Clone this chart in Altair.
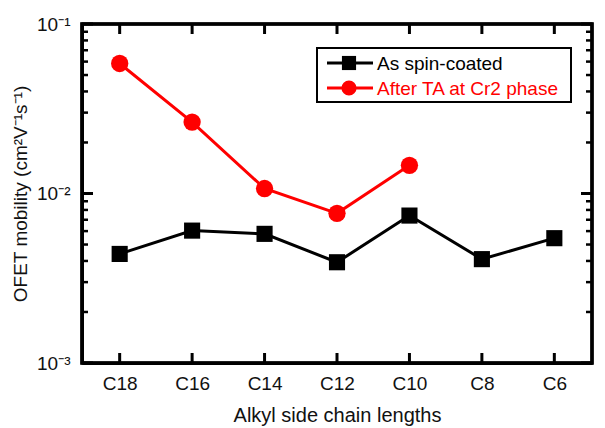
import altair as alt
import pandas as pd

categories = ["C18", "C16", "C14", "C12", "C10", "C8", "C6"]
spin_coated = [0.00440, 0.00604, 0.00578, 0.00393, 0.00741, 0.00410, 0.00545]
ta_categories = ["C18", "C16", "C14", "C12", "C10"]
after_ta = [0.0585, 0.0264, 0.0107, 0.00764, 0.01466]
series_names = ["As spin-coated", "After TA at Cr2 phase"]
series_colors = ["#000000", "#ff0000"]
major_ticks = [0.001, 0.01, 0.1]
minor_ticks = [k * 10.0 ** e for e in (-3, -2) for k in range(2, 10)]

W, H = 510, 339
FONT = "Liberation Sans"

df_black = pd.DataFrame({"cat": categories, "val": spin_coated})
df_red = pd.DataFrame({"cat": ta_categories, "val": after_ta})
df_cat = pd.DataFrame({"cat": categories})
df_major = pd.DataFrame({"val": major_ticks})
df_minor = pd.DataFrame({"val": minor_ticks})

xscale = alt.Scale(domain=categories, type="point", padding=0.52)
yscale = alt.Scale(type="log", domain=[0.001, 0.1])

x_axis = alt.Axis(title="Alkyl side chain lengths", labelAngle=0,
                  ticks=False, tickSize=0, domain=True, domainColor="black",
                  domainWidth=3, grid=False, zindex=1,
                  labelPadding=11, labelFontSize=19, labelFont=FONT,
                  labelColor="#111", titleFontSize=20, titleFont=FONT,
                  titleFontWeight="normal", titleColor="#111",
                  titleY=42)
y_axis = alt.Axis(title="OFET mobility (cm²V⁻¹s⁻¹)", values=major_ticks,
                  labelExpr="datum.value >= 0.05 ? '10⁻¹' : datum.value >= 0.005 ? '10⁻²' : '10⁻³'",
                  ticks=False, tickSize=0, domain=True, domainColor="black",
                  domainWidth=3, grid=False, zindex=1,
                  labelPadding=12, labelFontSize=19, labelFont=FONT,
                  labelColor="#111", titleFontSize=19, titleFont=FONT,
                  titleFontWeight="normal", titleColor="#111",
                  titleX=-52, titleY=H / 2)


def xe():
    return alt.X("cat:N", scale=xscale, sort=categories, axis=x_axis)


def ye():
    return alt.Y("val:Q", scale=yscale, axis=y_axis)


black_line = alt.Chart(df_black).mark_line(color="#000000", strokeWidth=3).encode(x=xe(), y=ye())
black_pts = alt.Chart(df_black).mark_point(shape="square", filled=True, color="#000000",
                                           size=260, opacity=1).encode(x=xe(), y=ye())
red_line = alt.Chart(df_red).mark_line(color="#ff0000", strokeWidth=3).encode(x=xe(), y=ye())
red_pts = alt.Chart(df_red).mark_point(shape="circle", filled=True, color="#ff0000",
                                       size=300, opacity=1).encode(x=xe(), y=ye())

# inward ticks on all four sides
top_ticks = alt.Chart(df_cat).mark_rule(color="black", strokeWidth=3).encode(
    x=xe(), y=alt.value(0), y2=alt.value(10))
bot_ticks = alt.Chart(df_cat).mark_rule(color="black", strokeWidth=3).encode(
    x=xe(), y=alt.value(H), y2=alt.value(H - 10))
left_major = alt.Chart(df_major).mark_rule(color="black", strokeWidth=3).encode(
    y=ye(), x=alt.value(0), x2=alt.value(11))
right_major = alt.Chart(df_major).mark_rule(color="black", strokeWidth=3).encode(
    y=ye(), x=alt.value(W), x2=alt.value(W - 11))
left_minor = alt.Chart(df_minor).mark_rule(color="black", strokeWidth=2.5).encode(
    y=ye(), x=alt.value(0), x2=alt.value(6))
right_minor = alt.Chart(df_minor).mark_rule(color="black", strokeWidth=2.5).encode(
    y=ye(), x=alt.value(W), x2=alt.value(W - 6))

leg_df = pd.DataFrame({"name": series_names, "color": series_colors})
one = leg_df.head(1)

# plot frame as a stroked rectangle
frame = alt.Chart(one).mark_rect(fill="transparent", stroke="#000000", strokeWidth=3.5,
                                 strokeOpacity=1).encode(
    x=alt.value(0), x2=alt.value(W), y=alt.value(0), y2=alt.value(H))

# legend box
leg_box = alt.Chart(one).mark_rect(fill="white", stroke="black", strokeWidth=2).encode(
    x=alt.value(235), x2=alt.value(489), y=alt.value(24), y2=alt.value(78))

leg_layers = []
leg_y = [39, 64]
leg_shapes = ["square", "circle"]
leg_sizes = [200, 230]
for i, name in enumerate(series_names):
    d = leg_df.iloc[[i]]
    col = series_colors[i]
    leg_layers.append(alt.Chart(d).mark_rule(color=col, strokeWidth=3).encode(
        x=alt.value(245), x2=alt.value(291), y=alt.value(leg_y[i])))
    leg_layers.append(alt.Chart(d).mark_point(shape=leg_shapes[i], filled=True, color=col,
                                              size=leg_sizes[i], opacity=1).encode(
        x=alt.value(267), y=alt.value(leg_y[i])))
    leg_layers.append(alt.Chart(d).mark_text(align="left", baseline="middle", font=FONT,
                                             fontSize=19, color=col).encode(
        x=alt.value(295), y=alt.value(leg_y[i] + 1), text="name:N"))

chart = alt.layer(
    black_line, red_line, black_pts, red_pts,
    top_ticks, bot_ticks, left_major, right_major, left_minor, right_minor,
    frame, leg_box, *leg_layers
).properties(
    width=W, height=H,
    autosize=alt.AutoSizeParams(type="none"),
    padding={"left": 74, "top": 16, "right": 5, "bottom": 63},
).configure(
    background="white",
    view=alt.ViewConfig(stroke="black", strokeWidth=3),
)

chart.save("out.html", embed_options={"renderer": "svg", "actions": False})
